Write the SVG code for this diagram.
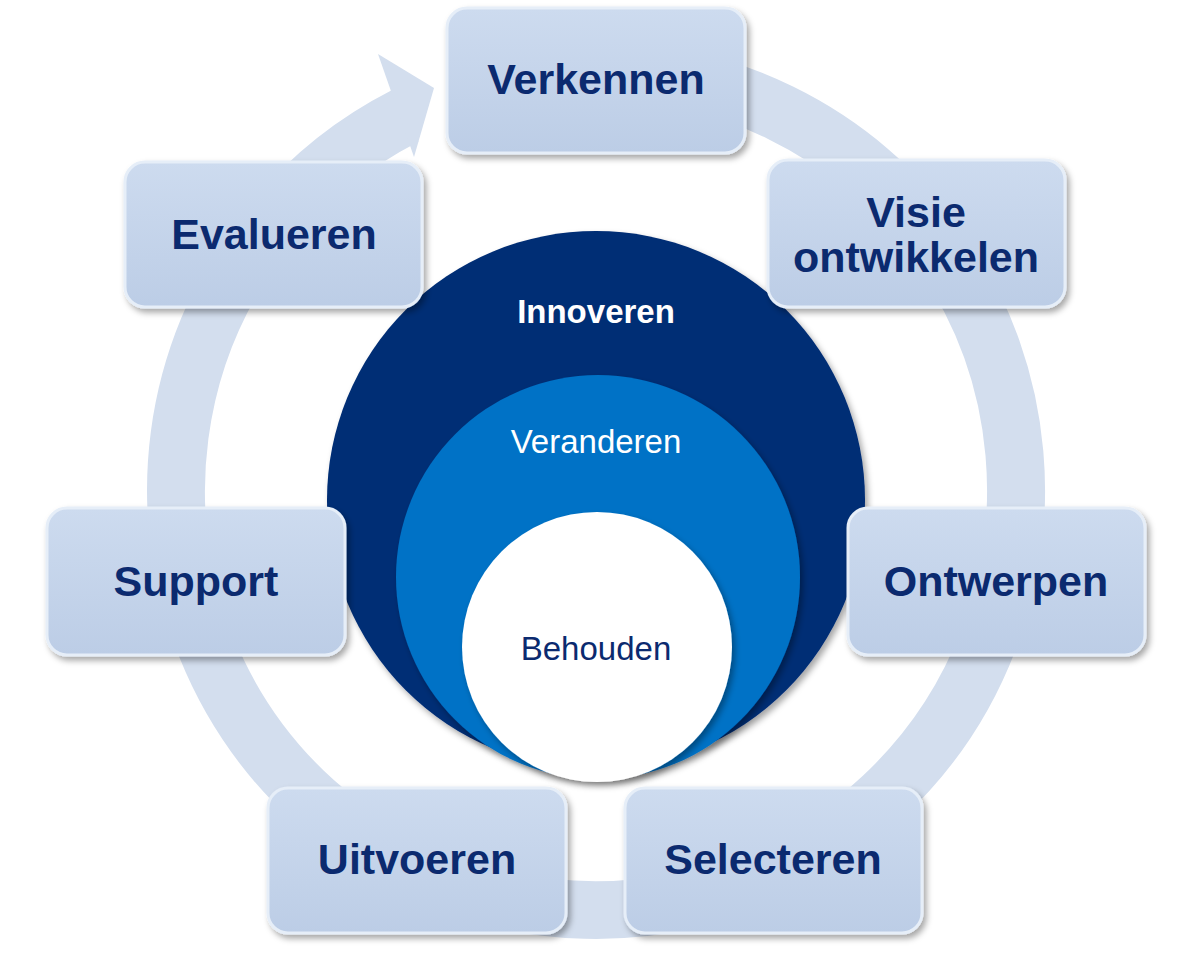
<svg xmlns="http://www.w3.org/2000/svg" width="1192" height="953" viewBox="0 0 1192 953">
<defs>
<linearGradient id="bg" x1="0" y1="0" x2="0" y2="1"><stop offset="0" stop-color="#cddbef"/><stop offset="1" stop-color="#bccde6"/></linearGradient>
<filter id="sh" x="-10%" y="-10%" width="125%" height="130%"><feDropShadow dx="3" dy="4" stdDeviation="3" flood-color="#000" flood-opacity="0.35"/></filter>
<style>
.box{fill:url(#bg);stroke:#e6eef8;stroke-width:3;filter:url(#sh)}
.lb{font-family:"Liberation Sans",Arial,sans-serif;font-weight:bold;font-size:43px;fill:#0b2a6f;text-anchor:middle}
.ct{font-family:"Liberation Sans",Arial,sans-serif;font-size:33px;text-anchor:middle}
</style>
</defs>
<g id="connectors">
<path d="M596,70 A420,420 0 1 1 405.3,115.8" fill="none" stroke="#d3deee" stroke-width="58"/>
<polygon points="434,88 378,54 414,157" fill="#d3deee"/>
</g>
<g id="innoveren"><circle cx="596" cy="500" r="269" fill="#002d74" filter="url(#sh)"/><text class="ct" x="596" y="323" fill="#fff" font-weight="bold">Innoveren</text></g>
<g id="veranderen"><circle cx="598" cy="577" r="202" fill="#0072c6" filter="url(#sh)"/><text class="ct" x="596" y="453" fill="#fff">Veranderen</text></g>
<g id="behouden"><circle cx="597" cy="647" r="135" fill="#fff" filter="url(#sh)"/><text class="ct" x="596" y="660" fill="#0b2a6f" font-size="32">Behouden</text></g>
<g id="n-verkennen"><rect class="box" x="447" y="8" width="298" height="145" rx="20"/><text class="lb" x="596" y="94">Verkennen</text></g>
<g id="n-visie"><rect class="box" x="768" y="160" width="297" height="147" rx="20"/><text class="lb" x="916" y="227">Visie</text><text class="lb" x="916" y="272">ontwikkelen</text></g>
<g id="n-ontwerpen"><rect class="box" x="848" y="508" width="297" height="147" rx="20"/><text class="lb" x="996" y="596">Ontwerpen</text></g>
<g id="n-selecteren"><rect class="box" x="625" y="788" width="297" height="145" rx="20"/><text class="lb" x="773" y="874">Selecteren</text></g>
<g id="n-uitvoeren"><rect class="box" x="268" y="788" width="298" height="145" rx="20"/><text class="lb" x="417" y="874">Uitvoeren</text></g>
<g id="n-support"><rect class="box" x="47" y="508" width="298" height="147" rx="20"/><text class="lb" x="196" y="596">Support</text></g>
<g id="n-evalueren"><rect class="box" x="125" y="162" width="297" height="145" rx="20"/><text class="lb" x="274" y="249">Evalueren</text></g>
</svg>
